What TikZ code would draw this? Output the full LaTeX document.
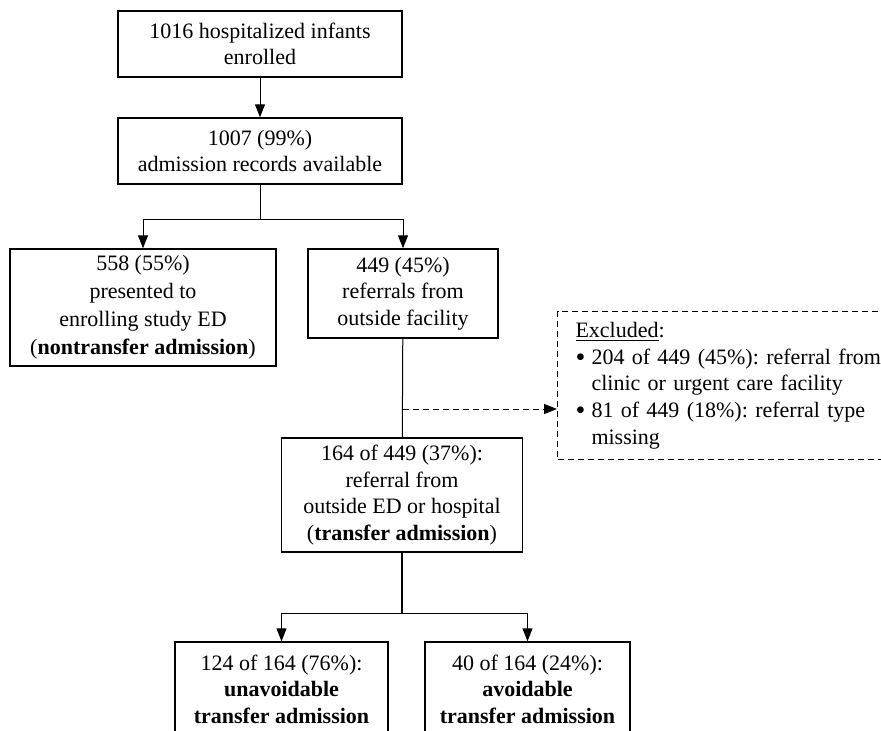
\documentclass[tikz,border=0pt]{standalone}
\usepackage{fontspec}
\setmainfont{Liberation Serif}
\usetikzlibrary{arrows.meta}
\frenchspacing
\newcommand{\exclbullet}{\makebox[8pt][l]{\raisebox{-1.2pt}{\fontsize{14}{13}\selectfont\textbullet}}}

\begin{document}
\begin{tikzpicture}[x=0.5pt, y=-0.5pt,
    box/.style={draw, line width=0.7pt, align=center, inner sep=0pt,
      font=\fontsize{11}{13.3}\selectfont},
    arr/.style={-{Triangle[width=5pt,length=6.5pt]}, line width=0.5pt}]
    \useasboundingbox (0,0) rectangle (881,731);
    \clip (0,0) rectangle (881,731);

    % Enrollment
    \node[box, minimum width=142pt, minimum height=33pt] (enrolled) at (260,44)
      {1016 hospitalized infants\\enrolled};
    \node[box, minimum width=142pt, minimum height=33pt] (records) at (260,151)
      {1007 (99\%)\\admission records available};
    \draw[arr] (enrolled) -- (records);

    % First split
    \node[box, minimum width=133pt, minimum height=58.5pt,
      font=\fontsize{11}{14}\selectfont] (nontransfer) at (143,307.5)
      {558 (55\%)\\presented to\\enrolling study ED\\(\textbf{nontransfer admission})};
    \node[box, minimum width=95pt, minimum height=44.5pt] (referrals) at (403,293.5)
      {449 (45\%)\\referrals from\\outside facility};
    \coordinate (split1) at (260,220);
    \draw[line width=0.5pt] (records) -- (split1);
    \draw[arr] (split1) -| (nontransfer);
    \draw[arr] (split1) -| (referrals);

    % Exclusions
    \node[draw, dashed, dash pattern=on 3pt off 2pt, line width=0.5pt, anchor=north west,
      align=left, text width=170pt, inner xsep=9pt, inner ysep=5.5pt,
      font=\fontsize{11}{13.3}\selectfont] (excluded) at (557,311)
      {\underline{Excluded}:\\
       \exclbullet 204 of 449 (45\%): referral from\\
       \hspace*{8pt}clinic or urgent care facility\\
       \exclbullet 81 of 449 (18\%): referral type\\
       \hspace*{8pt}missing};

    % Transfer admissions
    \node[box, minimum width=120.5pt, minimum height=57pt] (transfer) at (402,495)
      {164 of 449 (37\%):\\referral from\\outside ED or hospital\\(\textbf{transfer admission})};
    \draw[line width=0.5pt] (referrals) -- (transfer);
    \coordinate (exclbranch) at (403,409);
    \draw[arr, dashed, dash pattern=on 3pt off 2pt] (exclbranch) -- (exclbranch -| excluded.west);

    % Second split
    \node[box, minimum width=106.5pt, minimum height=47pt] (unavoidable) at (281.5,689)
      {124 of 164 (76\%):\\\textbf{unavoidable}\\\textbf{transfer admission}};
    \node[box, minimum width=102.5pt, minimum height=47pt] (avoidable) at (527.5,689)
      {40 of 164 (24\%):\\\textbf{avoidable}\\\textbf{transfer admission}};
    \coordinate (split2) at (402,613);
    \draw[line width=1pt] (transfer) -- (split2);
    \draw[arr] (split2) -| (unavoidable);
    \draw[arr] (split2) -| (avoidable);
\end{tikzpicture}
\end{document}
